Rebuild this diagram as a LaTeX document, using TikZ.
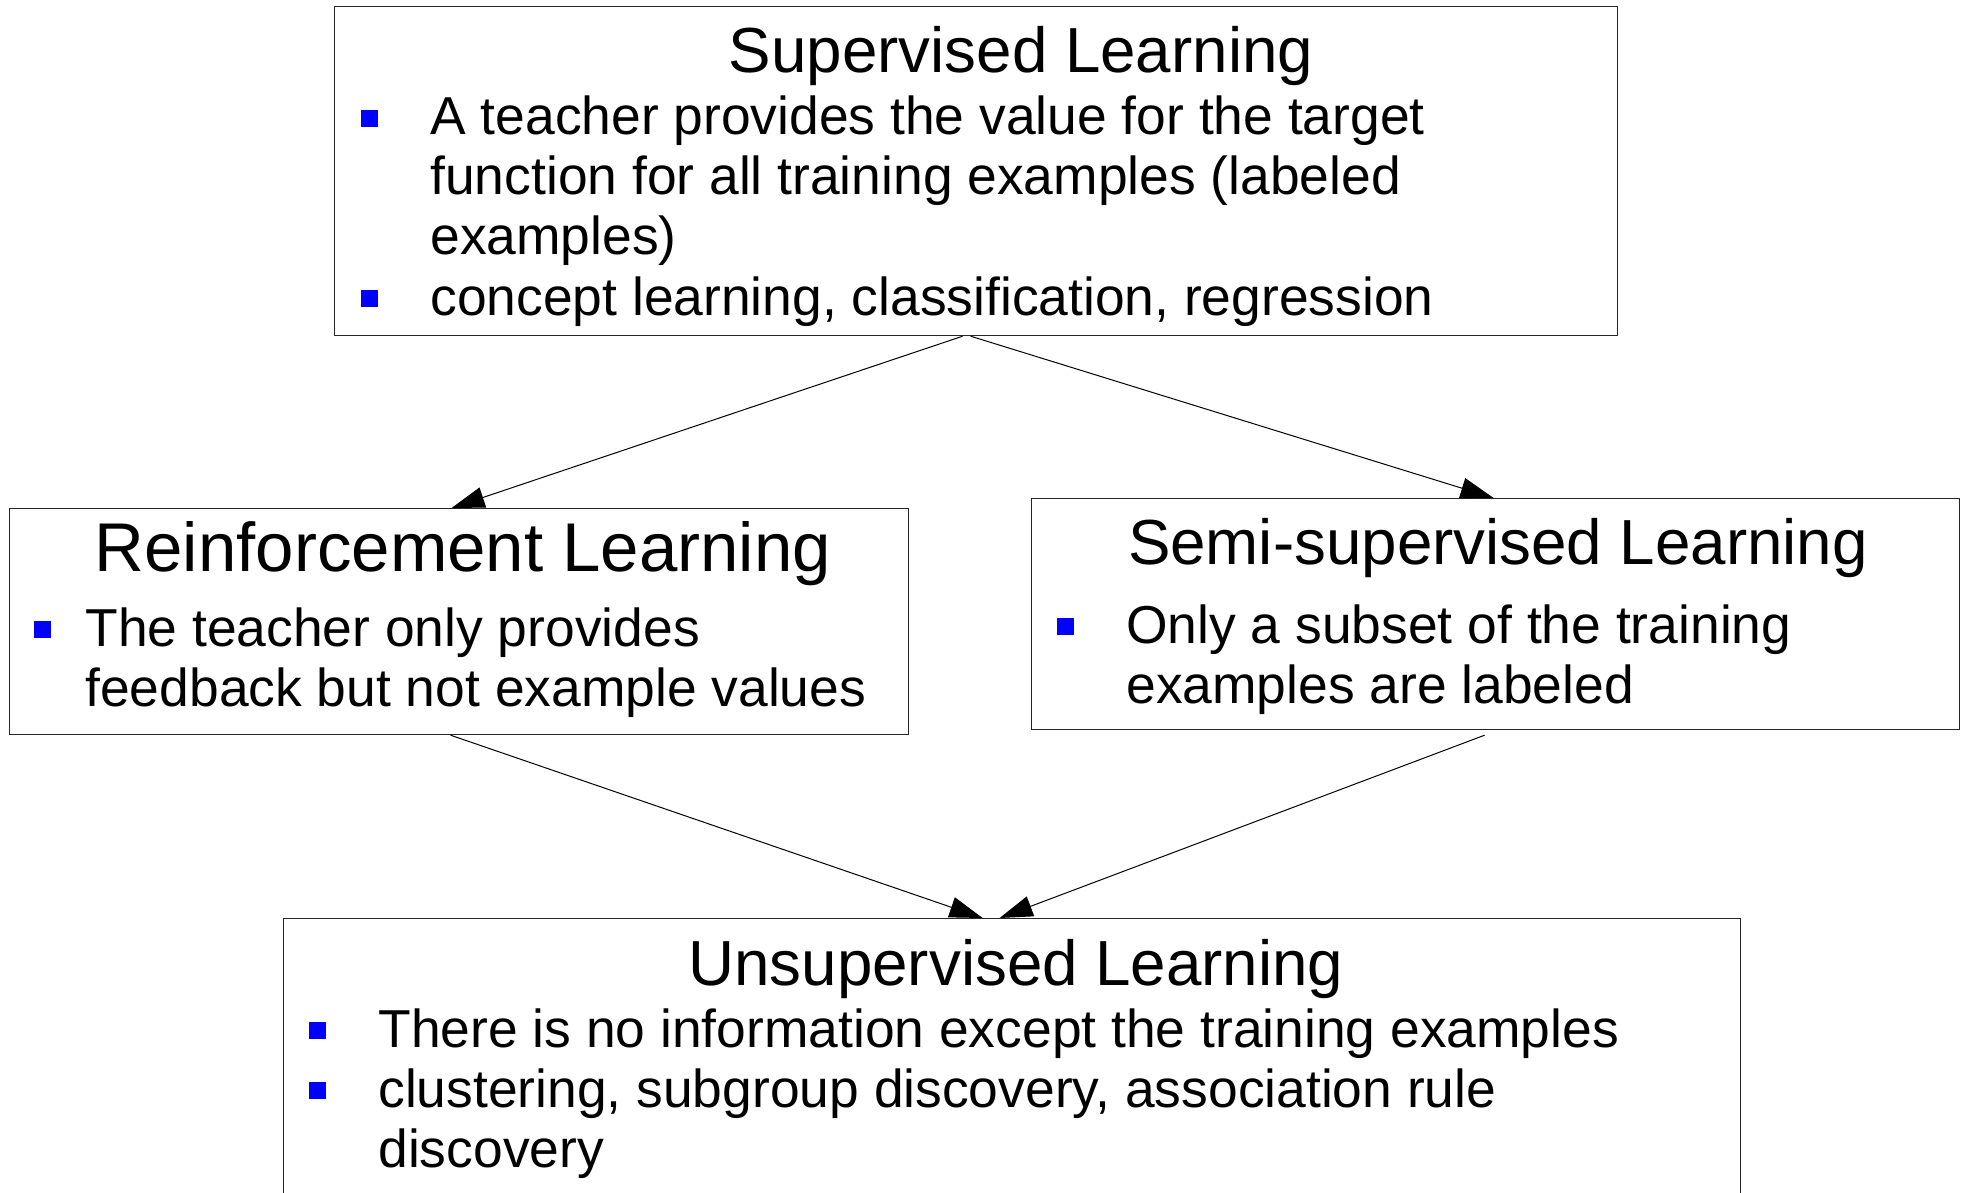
\documentclass[tikz,border=0pt]{standalone}
\usepackage{fontspec}
\setmainfont{Liberation Sans}
\usetikzlibrary{arrows.meta,positioning}
\tikzset{
    box/.style={draw=black!85, line width=0.6pt, anchor=north west, inner sep=0pt},
    boxtitle/.style={font=\fontsize{31.85}{36}\selectfont, inner sep=0pt, anchor=base},
    bulletline/.style={font=\fontsize{26.7}{30}\selectfont, inner sep=0pt, anchor=base west},
    link/.style={-{Triangle[length=16.5pt,width=10.5pt]}, line width=0.5pt},
  }
\newcommand{\sqbullet}{\textcolor{blue}{\rule[0.15em]{0.31em}{0.31em}}}
\newcommand{\bitem}[2][34.5pt]{\makebox[#1][l]{\sqbullet}\parbox[t]{700pt}{#2}}

\begin{document}
\begin{tikzpicture}[x=0.5pt,y=-0.5pt]
    \useasboundingbox (0,0) rectangle (1961,1193);
    \clip (0,0) rectangle (1961,1193);

    %% boxes
    \node[box, minimum width=641.5pt, minimum height=164.5pt] (sl) at (334,6) {};
    \node[box, minimum width=449.5pt, minimum height=113pt] (rl) at (9,508) {};
    \node[box, minimum width=464pt, minimum height=115.5pt] (ssl) at (1031,498) {};
    \node[box, minimum width=728.5pt, minimum height=171pt] (ul) at (283,918) {};

    %% supervised
    \node[boxtitle] (slt) at (1021,73) {Supervised Learning};
    \node[bulletline] (sl1) at (361,135) {\bitem{A teacher provides the value for the target\\function for all training examples (labeled\\examples)}};
    \node[bulletline] (sl2) at (361,315) {\bitem{concept learning, classification, regression}};

    %% reinforcement
    \node[boxtitle, font=\fontsize{34.5}{40}\selectfont] (rlt) at (463,571) {Reinforcement Learning};
    \node[bulletline] (rl1) at (34,646) {\bitem[25.5pt]{The teacher only provides\\feedback but not example values}};

    %% semi-supervised
    \node[boxtitle] (sslt) at (1498,564) {Semi-supervised Learning};
    \node[bulletline] (ssl1) at (1057,643) {\bitem{Only a subset of the training\\examples are labeled}};

    %% unsupervised
    \node[boxtitle] (ult) at (1016,985) {Unsupervised Learning};
    \node[bulletline] (ul1) at (309,1047) {\bitem{There is no information except the training examples}};
    \node[bulletline] (ul2) at (309,1107) {\bitem{clustering, subgroup discovery, association rule\\discovery}};

    %% arrows
    \draw[link] ([xshift=-6.75pt]sl.south) -- ([xshift=-3.75pt]rl.north);
    \draw[link] ([xshift=-2.75pt]sl.south) -- ([xshift=-1pt]ssl.north);
    \draw[link] ([xshift=-4.25pt]rl.south) -- ([xshift=-14.75pt]ul.north);
    \draw[link] ([xshift=-5.5pt,yshift=-2.5pt]ssl.south) -- ([xshift=-6.25pt]ul.north);
  \end{tikzpicture}
\end{document}
